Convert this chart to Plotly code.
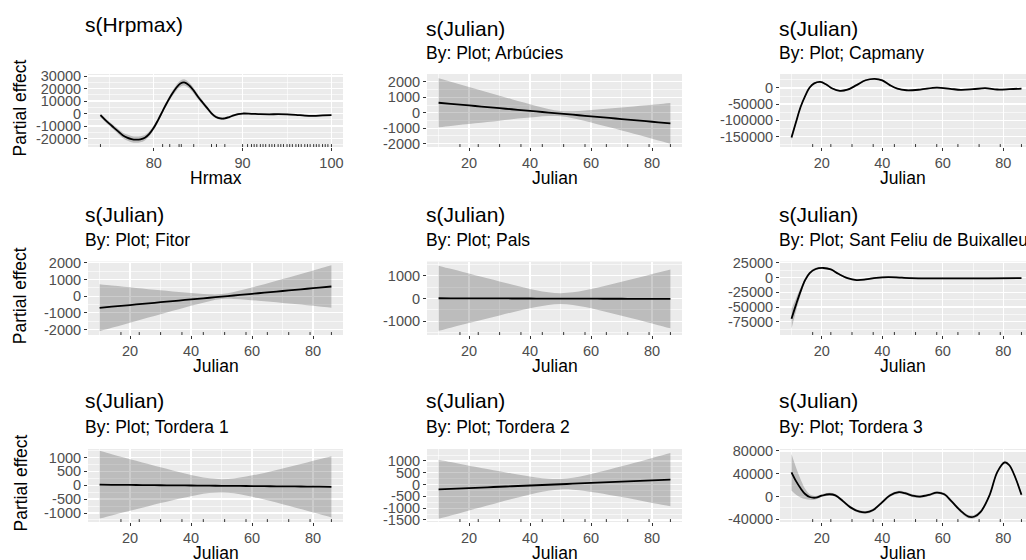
import plotly.graph_objects as go

W, H = 1026, 560
FONT = "Liberation Sans, Arial, Helvetica, sans-serif"

# ---------------- data ----------------
HR_X = [74, 74.5, 75, 75.5, 76, 76.5, 77, 77.5, 78, 78.5, 79, 79.5, 80, 80.5, 81, 81.5, 82, 82.5,
        83, 83.5, 84, 84.5, 85, 85.5, 86, 86.5, 87, 87.5, 88, 88.5, 89, 89.5, 90, 91, 92, 93, 94,
        95, 96, 97, 98, 99, 100]
HR_FIT = [-1300, -4800, -8100, -11200, -14300, -17300, -19200, -20400, -20900, -20600, -19300,
          -16200, -11400, -5000, 2000, 8800, 15000, 20200, 24000, 24800, 22400, 18300, 13200,
          8800, 4500, 200, -2700, -3900, -3900, -2800, -1500, -500, 0, -200, -500, -600, -500,
          -600, -1000, -1600, -1800, -1500, -1300]
HR_SE = [1600, 1500, 1600, 1800, 2000, 2200, 2400, 2500, 2500, 2400, 2200, 2000, 1800, 1700,
         1700, 1800, 2000, 2300, 2500, 2500, 2400, 2200, 2000, 1700, 1500, 1300, 1100, 1000,
         900, 900, 800, 800, 700, 600, 600, 600, 600, 600, 600, 600, 600, 600, 700]
HR_RUG = [74.0, 81.0, 81.8, 82.85, 83.1, 84.5, 86.5, 87.06, 88.0, 90.0, 90.56, 91.0, 91.3, 91.6,
          92.0, 92.3, 92.6, 93.0, 93.3, 93.6, 94.0, 94.3, 94.6, 95.0, 95.3, 95.6, 96.0, 96.3,
          96.6, 97.0, 97.3, 97.6, 98.0, 98.3, 98.6, 99.0, 99.3, 99.6, 100.0]
HR_XTICKS = [80, 90, 100]
HR_YTICKS = [30000, 20000, 10000, 0, -10000, -20000]

JULIAN = [10, 14, 18, 22, 26, 30, 34, 38, 42, 46, 50, 54, 58, 62, 66, 70, 74, 78, 82, 86]
JULIAN_RUG = [17, 23, 30, 37, 44, 51, 58, 65, 72, 79, 86]
JULIAN_TICKS = [20, 40, 60, 80]

ARB_FIT = [645, 575, 505, 434, 364, 294, 224, 154, 83, 13, -57, -127, -197, -268, -338, -408,
           -478, -548, -619, -689]
ARB_SE = [1585, 1428, 1272, 1116, 961, 806, 653, 502, 358, 232, 170, 225, 340, 470, 605, 745,
          885, 1025, 1170, 1311]
ARB_YTICKS = [2000, 1000, 0, -1000, -2000]

CAP_X = [10, 11.5, 13, 14.5, 16, 17.5, 19.5, 21.5, 23.5, 26, 28.5, 31.5, 34.5, 37.5, 40, 42.5,
         45, 48, 52.5, 58, 62.5, 66, 70, 74, 78, 82, 86]
CAP_FIT = [-153000, -105000, -59000, -25000, 1000, 14000, 18500, 10500, -2000, -9000, -5500,
           8500, 23500, 28000, 23000, 8500, -2500, -7300, -5200, 1000, -3000, -6000, -4000,
           -1000, -5000, -4000, -2000]
CAP_SE = [9000, 6000, 4000, 3000, 2500, 2500, 2500, 2500, 2500, 2500, 2500, 2500, 2500, 2500,
          2500, 2500, 2500, 2500, 2500, 2500, 2500, 2500, 2500, 2500, 2500, 2500, 2500]
CAP_YTICKS = [0, -50000, -100000, -150000]

FIT_FIT = [-700, -633, -565, -498, -431, -363, -296, -228, -161, -94, -26, 41, 109, 176, 243,
           311, 378, 446, 513, 580]
FIT_SE = [1408, 1269, 1130, 991, 853, 716, 580, 446, 318, 205, 150, 205, 318, 446, 580, 716,
          853, 991, 1130, 1269]
FIT_YTICKS = [2000, 1000, 0, -1000, -2000]

PALS_FIT = [10, 8, 7, 5, 4, 2, 0, -1, -3, -4, -5, -7, -8, -10, -12, -13, -15, -16, -18, -20]
PALS_SE = [1437, 1297, 1158, 1020, 883, 748, 615, 488, 371, 279, 240, 279, 371, 488, 615, 748,
           883, 1020, 1158, 1297]
PALS_YTICKS = [1000, 0, -1000]

SF_X = [10, 11.5, 13, 14.5, 16, 18, 20.5, 23, 25.5, 28.5, 31.5, 34.5, 38, 42, 46.5, 53, 64, 75, 86]
SF_FIT = [-70000, -46000, -23500, -4500, 7500, 14500, 16200, 13700, 6300, -1000, -4300, -3300,
          -400, 800, -300, -1400, -1500, -1500, -1000]
SF_SE = [17000, 11000, 6000, 3500, 2500, 2000, 1500, 1500, 1500, 1500, 1500, 1500, 1500, 1500,
         1500, 1500, 1500, 1500, 1500]
SF_YTICKS = [25000, 0, -25000, -50000, -75000]

T1_FIT = [20, 16, 12, 8, 4, 0, -4, -8, -12, -16, -20, -24, -28, -32, -36, -40, -44, -48, -52, -56]
T1_SE = [1220, 1103, 986, 871, 757, 644, 535, 432, 339, 268, 240, 268, 339, 432, 535, 644, 757,
         871, 986, 1103]
T1_YTICKS = [1000, 500, 0, -500, -1000]

T2_FIT = [-200, -178, -157, -135, -114, -92, -71, -49, -27, -6, 15, 37, 58, 80, 102, 123, 145,
          166, 188, 209]
T2_SE = [1250, 1130, 1010, 890, 771, 654, 540, 430, 330, 252, 220, 252, 330, 430, 540, 654, 771,
         890, 1010, 1130]
T2_YTICKS = [1000, 500, 0, -500, -1000, -1500]

T3_X = [10, 11.5, 13, 14.5, 16, 18, 20, 22.5, 24.5, 27, 29.5, 32.5, 34.5, 37, 39.5, 42.5, 45.5,
        47.5, 50.5, 52.5, 55.5, 58, 60.5, 63, 66, 68.5, 70.5, 72.5, 75.5, 78, 80.5, 82, 84, 86]
T3_FIT = [42500, 27000, 14400, 4500, -800, -2000, 1500, 4000, 2000, -8000, -19000, -26600,
          -27800, -23500, -12500, 1800, 7600, 5800, 1000, 0, 3000, 7000, 4000, -9000, -25500,
          -35300, -35000, -27000, 3000, 43000, 60000, 55000, 33000, 3000]
T3_SE = [32000, 24000, 16000, 9000, 5000, 3000, 2500, 2500, 2500, 2500, 2500, 2500, 2500, 2500,
         2500, 2500, 2500, 2500, 2500, 2500, 2500, 2500, 2500, 2500, 2800, 3000, 3000, 2800,
         2500, 2800, 3000, 3000, 3000, 3500]
T3_YTICKS = [80000, 40000, 0, -40000]

# ---------------- layout geometry (pixels) ----------------
COLS = [(88, 343), (427, 682), (780, 1026)]
ROWS = [(74, 147), (261.5, 335), (449, 522)]

PANELS = [
    dict(x=HR_X, fit=HR_FIT, se=HR_SE, rug=HR_RUG, xt=HR_XTICKS, xminor=[75, 85, 95],
         yt=HR_YTICKS, xr=[72.6, 101.3], yr=[-26740, 31600], title="s(Hrpmax)", sub=None,
         xlab="Hrmax", r=0, c=0),
    dict(x=JULIAN, fit=ARB_FIT, se=ARB_SE, rug=JULIAN_RUG, xt=JULIAN_TICKS, xminor=[10, 30, 50, 70],
         yt=ARB_YTICKS, xr=[6.2, 89.8], yr=[-2216, 2505], title="s(Julian)",
         sub="By: Plot; Arbúcies", xlab="Julian", r=0, c=1),
    dict(x=CAP_X, fit=CAP_FIT, se=CAP_SE, rug=JULIAN_RUG, xt=JULIAN_TICKS, xminor=[10, 30, 50, 70],
         yt=CAP_YTICKS, xr=[6.2, 87.5], yr=[-182000, 42800], title="s(Julian)",
         sub="By: Plot; Capmany", xlab="Julian", r=0, c=2),
    dict(x=JULIAN, fit=FIT_FIT, se=FIT_SE, rug=JULIAN_RUG, xt=JULIAN_TICKS, xminor=[10, 30, 50, 70],
         yt=FIT_YTICKS, xr=[6.2, 89.8], yr=[-2330, 2080], title="s(Julian)",
         sub="By: Plot; Fitor", xlab="Julian", r=1, c=0),
    dict(x=JULIAN, fit=PALS_FIT, se=PALS_SE, rug=JULIAN_RUG, xt=JULIAN_TICKS, xminor=[10, 30, 50, 70],
         yt=PALS_YTICKS, xr=[6.2, 89.8], yr=[-1610, 1630], title="s(Julian)",
         sub="By: Plot; Pals", xlab="Julian", r=1, c=1),
    dict(x=SF_X, fit=SF_FIT, se=SF_SE, rug=JULIAN_RUG, xt=JULIAN_TICKS, xminor=[10, 30, 50, 70],
         yt=SF_YTICKS, xr=[6.2, 87.5], yr=[-97500, 27200], title="s(Julian)",
         sub="By: Plot; Sant Feliu de Buixalleu", xlab="Julian", r=1, c=2),
    dict(x=JULIAN, fit=T1_FIT, se=T1_SE, rug=JULIAN_RUG, xt=JULIAN_TICKS, xminor=[10, 30, 50, 70],
         yt=T1_YTICKS, xr=[6.2, 89.8], yr=[-1324, 1305], title="s(Julian)",
         sub="By: Plot; Tordera 1", xlab="Julian", r=2, c=0),
    dict(x=JULIAN, fit=T2_FIT, se=T2_SE, rug=JULIAN_RUG, xt=JULIAN_TICKS, xminor=[10, 30, 50, 70],
         yt=T2_YTICKS, xr=[6.2, 89.8], yr=[-1585, 1508], title="s(Julian)",
         sub="By: Plot; Tordera 2", xlab="Julian", r=2, c=1),
    dict(x=T3_X, fit=T3_FIT, se=T3_SE, rug=JULIAN_RUG, xt=JULIAN_TICKS, xminor=[10, 30, 50, 70],
         yt=T3_YTICKS, xr=[6.2, 87.5], yr=[-44700, 83500], title="s(Julian)",
         sub="By: Plot; Tordera 3", xlab="Julian", r=2, c=2),
]

TITLE_Y = [(25, 28, 53), (215, 215, 240), (400, 400, 427)]
TITLE_X = [83, 424, 777]


def fy(py):
    return 1 - py / H


def minor_from(ticks):
    t = sorted(ticks)
    step = t[1] - t[0]
    return [t[0] - step / 2] + [a + step / 2 for a in t]


fig = go.Figure()
axes = {}
shapes = []
annotations = []
tickfont = dict(size=14.5, color="#4D4D4D", family=FONT)

for i, p in enumerate(PANELS):
    n = i + 1
    sfx = "" if n == 1 else str(n)
    xa, ya = "x" + sfx, "y" + sfx
    c0, c1 = COLS[p["c"]]
    r0, r1 = ROWS[p["r"]]
    upper = [f + s for f, s in zip(p["fit"], p["se"])]
    lower = [f - s for f, s in zip(p["fit"], p["se"])]
    common = dict(xaxis=xa, yaxis=ya, showlegend=False, hoverinfo="skip")
    fig.add_trace(go.Scatter(x=p["x"], y=upper, mode="lines",
                             line=dict(width=0, shape="spline"), **common))
    fig.add_trace(go.Scatter(x=p["x"], y=lower, mode="lines",
                             line=dict(width=0, shape="spline"), fill="tonexty",
                             fillcolor="rgba(0,0,0,0.2)", **common))
    fig.add_trace(go.Scatter(x=p["x"], y=p["fit"], mode="lines",
                             line=dict(color="black", width=1.8, shape="spline"), **common))

    axes["xaxis" + sfx] = dict(
        domain=[c0 / W, c1 / W], range=p["xr"], anchor=ya,
        tickmode="array", tickvals=p["xt"], ticktext=[str(v) for v in p["xt"]],
        ticks="outside", ticklen=3, tickwidth=1, tickcolor="#333333", tickfont=tickfont,
        showgrid=True, gridcolor="white", gridwidth=1.3,
        minor=dict(tickvals=p["xminor"], showgrid=True, gridcolor="white", gridwidth=0.6),
        zeroline=False, showline=False, fixedrange=True, automargin=False)
    axes["yaxis" + sfx] = dict(
        domain=[fy(r1), fy(r0)], range=p["yr"], anchor=xa,
        tickmode="array", tickvals=p["yt"], ticktext=[str(v) for v in p["yt"]],
        ticks="outside", ticklen=3, tickwidth=1, tickcolor="#333333", tickfont=tickfont,
        showgrid=True, gridcolor="white", gridwidth=1.3,
        minor=dict(tickvals=minor_from(p["yt"]), showgrid=True, gridcolor="white", gridwidth=0.6),
        zeroline=False, showline=False, fixedrange=True, automargin=False)

    for v in p["rug"]:
        shapes.append(dict(type="line", xref=xa, yref=ya + " domain", x0=v, x1=v, y0=0, y1=0.04,
                           line=dict(color="#333333", width=1)))

    ty_main, ty_julian, ty_sub = TITLE_Y[p["r"]]
    tx = TITLE_X[p["c"]]
    annotations.append(dict(text=p["title"], x=tx / W, y=fy(ty_main if p["sub"] is None else ty_julian),
                            xref="paper", yref="paper", xanchor="left", yanchor="middle",
                            showarrow=False, font=dict(size=21, color="black", family=FONT)))
    if p["sub"]:
        annotations.append(dict(text=p["sub"], x=tx / W, y=fy(ty_sub), xref="paper", yref="paper",
                                xanchor="left", yanchor="middle", showarrow=False,
                                font=dict(size=17.5, color="black", family=FONT)))
    annotations.append(dict(text=p["xlab"], x=(c0 + min(c1, c0 + 255)) / 2 / W, y=fy(r1 + 31),
                            xref="paper", yref="paper", xanchor="center", yanchor="middle",
                            showarrow=False, font=dict(size=17.5, color="black", family=FONT)))
    if p["c"] == 0:
        annotations.append(dict(text="Partial effect", x=20 / W, y=fy((r0 + r1) / 2 - 2),
                                xref="paper", yref="paper", xanchor="center", yanchor="middle",
                                textangle=-90, showarrow=False,
                                font=dict(size=17.5, color="black", family=FONT)))

fig.update_layout(
    width=W, height=H, margin=dict(l=0, r=0, t=0, b=0, pad=0),
    paper_bgcolor="white", plot_bgcolor="#EBEBEB",
    font=dict(family=FONT), showlegend=False,
    shapes=shapes, annotations=annotations, **axes)

fig.write_html(
    "out.html",
    config={"displayModeBar": False, "staticPlot": True},
    post_script="document.body.style.margin='0px';document.body.style.padding='0px';"
                "document.body.style.overflow='hidden';",
)
